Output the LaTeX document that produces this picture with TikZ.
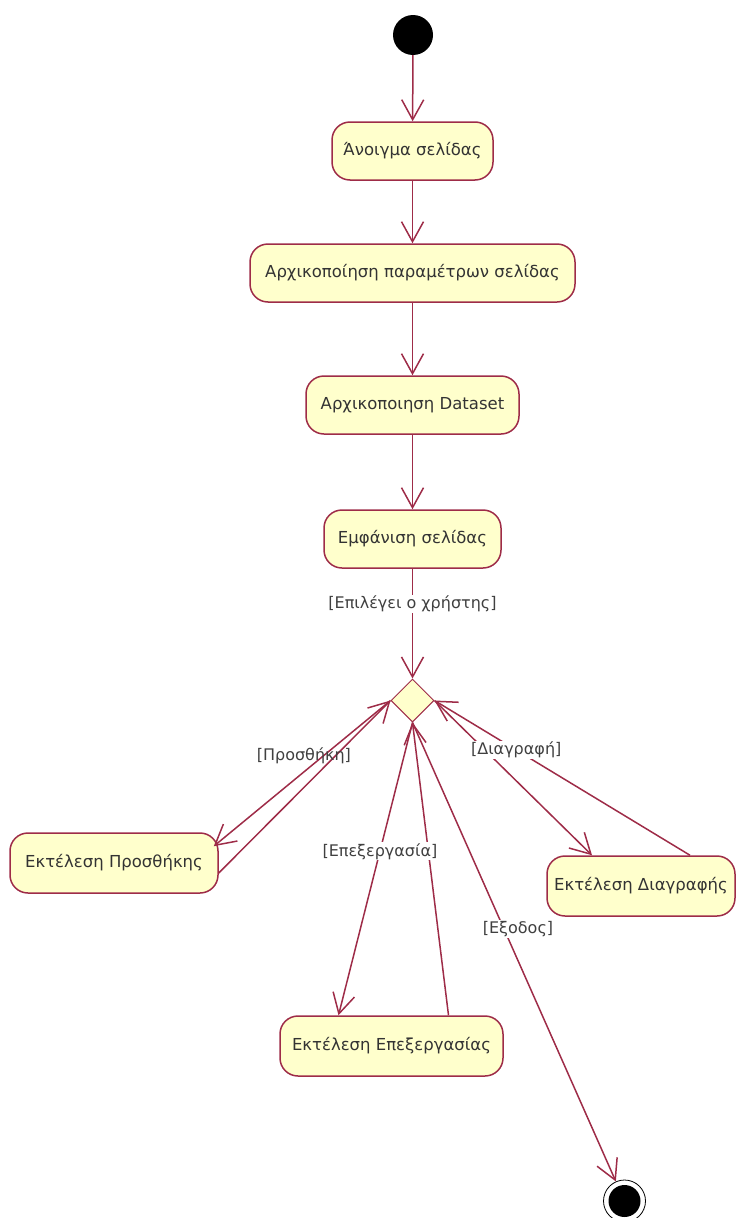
\documentclass[tikz,border=0pt]{standalone}
\usepackage{fontspec}
\setmainfont{DejaVu Sans}
\usetikzlibrary{arrows.meta,shapes.geometric,calc}
\definecolor{edgered}{RGB}{158,44,72}
\definecolor{actfill}{RGB}{255,255,204}
\begin{document}
\begin{tikzpicture}[x=1pt,y=-1pt,
  action/.style={draw=edgered,fill=actfill,rounded corners=18pt,line width=1.5pt,
    minimum height=58pt,inner sep=0pt,font=\fontsize{16.5}{20}\selectfont,text=black!80},
  flow/.style={draw=edgered,line width=1.5pt,
    -{Straight Barb[length=20pt,width=22pt,line width=1.5pt]}},
  lbl/.style={fill=white,inner sep=1pt,font=\fontsize{16}{19}\selectfont,text=black!75}]
\useasboundingbox (0,0) rectangle (737,1218);

% initial and final states
\node[circle,fill=black,minimum size=40pt,inner sep=0pt] (start) at (413,35) {};
\node[circle,draw=black,line width=0.8pt,fill=white,minimum size=42pt,inner sep=0pt] (end) at (624.5,1201) {};
\fill[black] (end.center) circle (16);

% activities
\node[action,minimum width=161pt] (n1) at (412.5,151) {Άνοιγμα σελίδας};
\node[action,minimum width=325pt] (n2) at (412.5,273) {Αρχικοποίηση παραμέτρων σελίδας};
\node[action,minimum width=213pt] (n3) at (412.5,405) {Αρχικοποιηση Dataset};
\node[action,minimum width=177pt] (n4) at (412.5,539) {Εμφάνιση σελίδας};
\node[action,minimum width=208pt,minimum height=60pt] (add) at (114,863) {Εκτέλεση Προσθήκης};
\node[action,minimum width=188pt,minimum height=60pt] (del) at (641,886) {Εκτέλεση Διαγραφής};
\node[action,minimum width=223pt,minimum height=60pt] (edit) at (391.5,1046) {Εκτέλεση Επεξεργασίας};

% decision
\node[diamond,draw=edgered,line width=1pt,fill=actfill,minimum width=43pt,minimum height=43pt,
  aspect=1,inner sep=0pt] (dec) at (412.5,700.5) {};

% main flow
\draw[flow] (start) -- (n1);
\draw[flow] (n1) -- (n2);
\draw[flow] (n2) -- (n3);
\draw[flow] (n3) -- (n4);
\draw[flow] (n4) -- node[lbl,pos=0.32]{[Επιλέγει ο χρήστης]} (dec);

% add branch
\draw[flow] ($(add.east)+(0,10)$) -- (dec.west);
\draw[flow] (dec.west) -- node[lbl,fill=none,pos=0.49,yshift=16pt]{[Προσθήκη]} ($(add.north east)+(-5,14)$);

% delete branch
\draw[flow] (dec.east) -- ($(del.north)+(-49,0)$);
\draw[flow] ($(del.north)+(49,0)$) -- node[lbl,pos=0.68]{[Διαγραφή]} (dec.east);

% edit branch
\draw[flow] ($(edit.north)+(57,0)$) -- (dec.south);
\draw[flow] (dec.south) -- node[lbl,pos=0.44]{[Επεξεργασία]} ($(edit.north)+(-53,0)$);

% exit
\draw[flow] (dec.south) -- node[lbl,pos=0.45,xshift=14pt]{[Εξοδος]} (end);
\end{tikzpicture}
\end{document}
